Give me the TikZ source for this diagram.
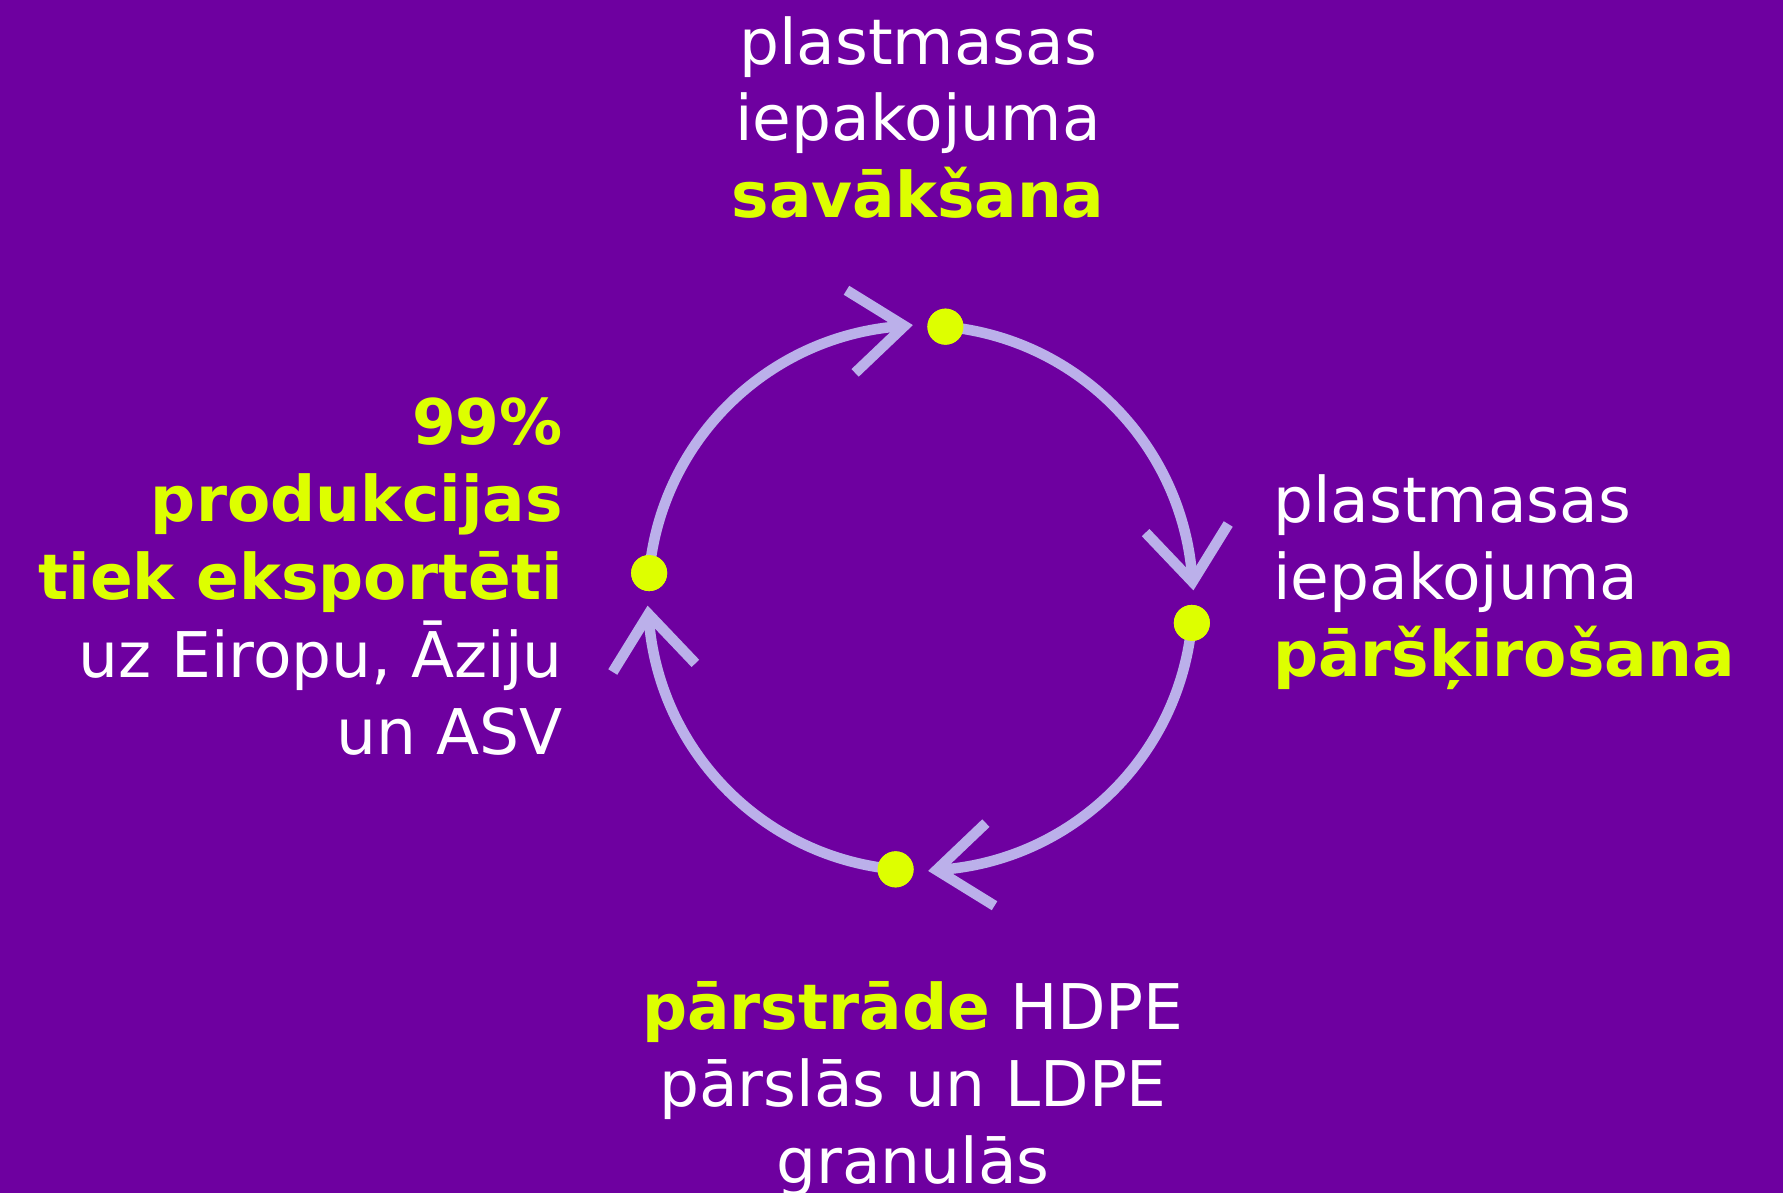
\documentclass[tikz,border=0pt]{standalone}
\usepackage{fontspec}
\setmainfont{DejaVu Sans}
\definecolor{bgp}{RGB}{110,0,160}
\definecolor{ringc}{RGB}{187,176,234}
\definecolor{ylw}{RGB}{221,255,0}
\begin{document}
\begin{tikzpicture}[x=1pt,y=-1pt,
  ring/.style={draw=ringc, line width=10.5pt, line cap=butt},
  chev/.style={draw=ringc, line width=10.5pt, line cap=butt, line join=miter},
  dot/.style={circle, fill=ylw, draw=none, inner sep=0pt, minimum size=36pt},
  txt/.style={inner sep=0pt, text=white, font=\fontsize{63}{77}\selectfont},
  hl/.style={txt, text=ylw, font=\fontsize{63}{77}\selectfont\bfseries}]
\useasboundingbox (0,0) rectangle (1783,1193);
\fill[bgp] (0,0) rectangle (1783,1193);
% ring geometry
\coordinate (C) at (920.5,598);
\node[dot] (dT) at ([shift={(275.25:272.5)}]C) {};
\node[dot] (dR) at ([shift={(5.25:272.5)}]C) {};
\node[dot] (dB) at ([shift={(95.25:272.5)}]C) {};
\node[dot] (dL) at ([shift={(185.25:272.5)}]C) {};
\coordinate (vT) at ([shift={(266.6:272.5)}]C);
\coordinate (vR) at ([shift={(356.6:272.5)}]C);
\coordinate (vB) at ([shift={(86.6:272.5)}]C);
\coordinate (vL) at ([shift={(176.6:272.5)}]C);
% arcs
\draw[ring] (dT.center) arc[start angle=275.25, end angle=356.6, radius=272.5];
\draw[ring] (dR.center) arc[start angle=5.25, end angle=86.6, radius=272.5];
\draw[ring] (dB.center) arc[start angle=95.25, end angle=176.6, radius=272.5];
\draw[ring] (dL.center) arc[start angle=185.25, end angle=266.6, radius=272.5];
% arrowheads
\draw[chev] ([shift={(211.7:68)}]vT) -- (vT) -- ([shift={(136.4:68)}]vT);
\draw[chev] ([shift={(301.7:68)}]vR) -- (vR) -- ([shift={(226.4:68)}]vR);
\draw[chev] ([shift={(31.7:68)}]vB) -- (vB) -- ([shift={(316.4:68)}]vB);
\draw[chev] ([shift={(121.7:68)}]vL) -- (vL) -- ([shift={(46.4:68)}]vL);
% dots on top
\node[dot] at (dT) {};
\node[dot] at (dR) {};
\node[dot] at (dB) {};
\node[dot] at (dL) {};
% top text
\node[txt, anchor=base] (t1) at (918,65) {plastmasas};
\node[txt, anchor=base] (t2) at (918,141) {iepakojuma};
\node[hl, anchor=base] (t3) at (918,218) {savākšana};
% right text
\node[txt, anchor=base west] (r1) at (1273,522) {plastmasas};
\node[txt, anchor=base west] (r2) at (1273,599) {iepakojuma};
\node[hl, anchor=base west] (r3) at (1273,676) {pāršķirošana};
% left text
\node[hl, anchor=base east] (l1) at (563,444) {99\%};
\node[hl, anchor=base east] (l2) at (563,521) {produkcijas};
\node[hl, anchor=base east] (l3) at (563,599) {tiek eksportēti};
\node[txt, anchor=base east] (l4) at (563,677) {uz Eiropu, Āziju};
\node[txt, anchor=base east] (l5) at (563,754) {un ASV};
% bottom text
\node[txt, anchor=base] (b1) at (913,1029) {\textcolor{ylw}{\bfseries pārstrāde} HDPE};
\node[txt, anchor=base] (b2) at (913,1106) {pārslās un LDPE};
\node[txt, anchor=base] (b3) at (913,1183) {granulās};
\end{tikzpicture}
\end{document}
